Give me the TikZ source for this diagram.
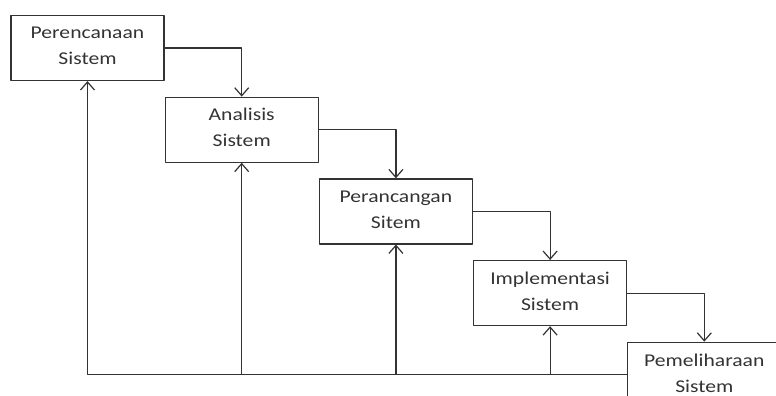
\documentclass[tikz,border=0pt]{standalone}
\usepackage{fontspec}
\setmainfont{Carlito}[FakeStretch=1.2]
\usetikzlibrary{positioning,arrows.meta}
\tikzset{kotak/.style={draw, minimum width=153pt, minimum height=65pt, inner sep=0pt, align=center, text depth=4pt, text=black!80, font=\fontsize{18}{26}\selectfont}}
\begin{document}
\begin{tikzpicture}[x=1pt, y=-1pt, color=black!80, line width=1.2pt, line join=round, >={Straight Barb[length=8pt,width=14pt]}]
\useasboundingbox (0,0) rectangle (776,396);
\node[kotak] (A) at (87.5,48) {Perencanaan\\Sistem};
\node[kotak, below right=15.5pt and 0pt of A] (B) {Analisis\\Sistem};
\node[kotak, below right=15.5pt and 0pt of B] (C) {Perancangan\\Sitem};
\node[kotak, below right=15.5pt and 0pt of C] (D) {Implementasi\\Sistem};
\node[kotak, below right=15.5pt and 0pt of D] (E) {Pemeliharaan\\Sistem};
\draw[->] (A.east) -| (B.north);
\draw[->] (B.east) -| (C.north);
\draw[->] (C.east) -| (D.north);
\draw[->] (D.east) -| (E.north);
% umpan balik
\draw[->] (E.west) -| (A.south);
\draw[->] (B.south |- E.west) -- (B.south);
\draw[->] (C.south |- E.west) -- (C.south);
\draw[->] (D.south |- E.west) -- (D.south);
\end{tikzpicture}
\end{document}
